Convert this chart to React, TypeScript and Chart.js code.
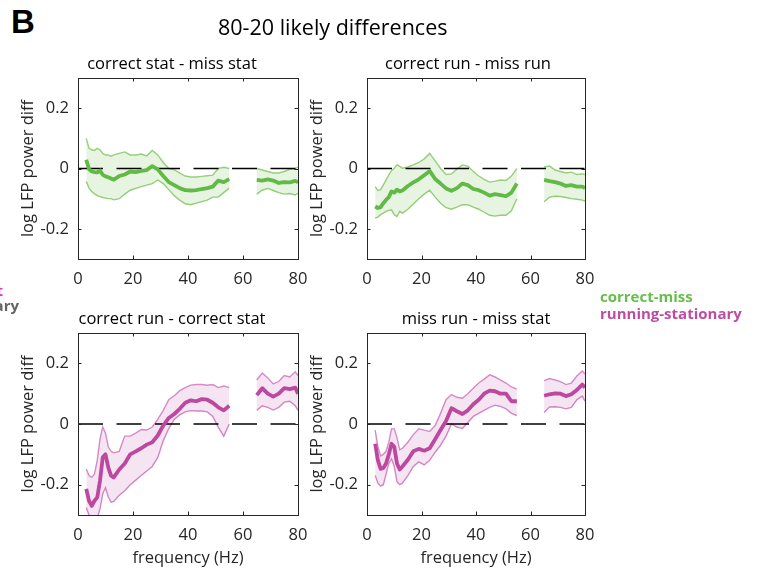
import React, { useEffect, useRef } from "react";
import { Chart, registerables } from "chart.js";

Chart.register(...registerables);

const FONT = '"Open Sans", "Noto Sans", sans-serif';

// frequency (Hz); 60 is the notch gap (null values)
const FREQ = [3, 4, 5, 6, 7, 8, 9, 10, 11, 12, 13, 15, 17, 19, 21, 23, 25, 27, 29, 31, 33, 35, 37, 39, 41, 43, 45, 47, 49, 51, 53, 55, 60, 65, 67, 69, 71, 73, 75, 77, 79, 80];
const X_TICKS = [0, 20, 40, 60, 80];
const Y_TICKS = [-0.2, 0, 0.2];
const Y_TICK_LABELS = ["-0.2", "0", "0.2"];

const TL_MEAN = [0.029, -0.002, -0.01, -0.012, -0.013, -0.007, -0.021, -0.026, -0.029, -0.033, -0.037, -0.025, -0.02, -0.01, -0.012, -0.008, -0.005, 0.008, -0.003, -0.025, -0.045, -0.055, -0.065, -0.072, -0.073, -0.072, -0.068, -0.065, -0.06, -0.04, -0.045, -0.035, null, -0.038, -0.04, -0.036, -0.04, -0.048, -0.045, -0.046, -0.041, -0.046];
const TL_UPPER = [0.1, 0.067, 0.062, 0.06, 0.067, 0.062, 0.05, 0.045, 0.045, 0.04, 0.045, 0.05, 0.055, 0.045, 0.045, 0.048, 0.042, 0.06, 0.045, 0.02, 0.0, -0.004, -0.015, -0.025, -0.028, -0.028, -0.026, -0.024, -0.022, 0.0, 0.004, 0.0, null, 0.0, -0.005, -0.01, -0.015, -0.015, -0.01, -0.003, 0.0, 0.005];
const TL_LOWER = [-0.043, -0.065, -0.076, -0.084, -0.09, -0.093, -0.096, -0.098, -0.1, -0.1, -0.104, -0.1, -0.085, -0.072, -0.066, -0.06, -0.055, -0.05, -0.038, -0.05, -0.07, -0.09, -0.105, -0.117, -0.12, -0.115, -0.11, -0.105, -0.095, -0.095, -0.08, -0.065, null, -0.085, -0.072, -0.066, -0.073, -0.08, -0.085, -0.083, -0.088, -0.082];

const TR_MEAN = [-0.126, -0.131, -0.128, -0.115, -0.104, -0.095, -0.076, -0.08, -0.07, -0.076, -0.073, -0.058, -0.046, -0.036, -0.022, -0.008, -0.035, -0.05, -0.066, -0.074, -0.065, -0.05, -0.055, -0.068, -0.072, -0.08, -0.09, -0.085, -0.088, -0.092, -0.08, -0.05, null, -0.038, -0.042, -0.045, -0.05, -0.058, -0.055, -0.06, -0.06, -0.065];
const TR_UPPER = [-0.06, -0.073, -0.07, -0.054, -0.038, -0.021, -0.007, 0.001, 0.012, 0.007, 0.001, 0.005, 0.012, 0.02, 0.032, 0.05, 0.025, 0.0, -0.02, -0.018, -0.002, 0.012, 0.008, -0.01, -0.025, -0.036, -0.045, -0.042, -0.038, -0.04, -0.025, 0.0, null, 0.005, 0.008, -0.005, -0.01, -0.015, -0.012, -0.02, -0.018, -0.02];
const TR_LOWER = [-0.164, -0.161, -0.153, -0.148, -0.142, -0.139, -0.137, -0.153, -0.159, -0.142, -0.148, -0.135, -0.118, -0.1, -0.085, -0.072, -0.095, -0.115, -0.13, -0.135, -0.128, -0.12, -0.12, -0.128, -0.135, -0.145, -0.155, -0.158, -0.155, -0.155, -0.14, -0.1, null, -0.11, -0.095, -0.092, -0.093, -0.096, -0.1, -0.102, -0.105, -0.108];

const BL_MEAN = [-0.214, -0.253, -0.27, -0.253, -0.242, -0.187, -0.11, -0.1, -0.143, -0.17, -0.176, -0.15, -0.13, -0.1, -0.09, -0.08, -0.068, -0.06, -0.038, -0.005, 0.02, 0.033, 0.05, 0.07, 0.078, 0.075, 0.082, 0.08, 0.07, 0.055, 0.045, 0.06, null, 0.095, 0.118, 0.1, 0.09, 0.1, 0.118, 0.115, 0.12, 0.1];
const BL_UPPER = [-0.148, -0.17, -0.176, -0.165, -0.12, -0.05, -0.01, -0.03, -0.075, -0.09, -0.095, -0.09, -0.04, -0.04, -0.03, -0.018, -0.02, -0.01, 0.015, 0.045, 0.08, 0.093, 0.11, 0.12, 0.128, 0.13, 0.13, 0.128, 0.13, 0.12, 0.125, 0.12, null, 0.145, 0.168, 0.152, 0.132, 0.14, 0.16, 0.155, 0.172, 0.16];
const BL_LOWER = [-0.275, -0.3, -0.31, -0.31, -0.31, -0.28, -0.23, -0.21, -0.24, -0.258, -0.255, -0.235, -0.22, -0.2, -0.185, -0.17, -0.155, -0.14, -0.11, -0.055, -0.015, 0.015, 0.03, 0.04, 0.044, 0.043, 0.043, 0.04, 0.025, -0.01, -0.04, 0.0, null, 0.045, 0.06, 0.055, 0.046, 0.055, 0.072, 0.075, 0.06, 0.045];

const BR_MEAN = [-0.065, -0.12, -0.148, -0.145, -0.13, -0.1, -0.065, -0.075, -0.13, -0.15, -0.14, -0.118, -0.09, -0.082, -0.088, -0.08, -0.05, -0.02, 0.01, 0.052, 0.042, 0.033, 0.045, 0.065, 0.08, 0.1, 0.11, 0.108, 0.1, 0.1, 0.075, 0.075, null, 0.093, 0.098, 0.101, 0.1, 0.092, 0.098, 0.112, 0.13, 0.12];
const BR_UPPER = [-0.02, -0.075, -0.105, -0.1, -0.09, -0.06, -0.016, -0.016, -0.045, -0.085, -0.08, -0.06, -0.035, -0.016, -0.02, -0.025, -0.005, 0.035, 0.08, 0.097, 0.088, 0.085, 0.1, 0.118, 0.135, 0.148, 0.162, 0.155, 0.145, 0.135, 0.122, 0.115, null, 0.143, 0.15, 0.145, 0.14, 0.13, 0.135, 0.158, 0.175, 0.165];
const BR_LOWER = [-0.17, -0.195, -0.205, -0.2, -0.165, -0.13, -0.115, -0.14, -0.19, -0.2, -0.195, -0.17, -0.14, -0.125, -0.135, -0.12, -0.093, -0.07, -0.04, 0.0, -0.01, -0.015, 0.005, 0.025, 0.035, 0.045, 0.055, 0.062, 0.058, 0.05, 0.035, 0.028, null, 0.038, 0.056, 0.057, 0.055, 0.05, 0.055, 0.08, 0.092, 0.075];

const GREEN = { main: "rgb(98,186,70)", edge: "rgb(150,208,122)", fill: "rgba(112,190,85,0.17)" };
const MAGENTA = { main: "rgb(188,72,160)", edge: "rgb(214,138,198)", fill: "rgba(190,90,170,0.16)" };

const PANELS = [
  { title: "correct stat - miss stat", titleX: 172, titleY: 64, canvas: { l: 0, t: 40, w: 320, h: 260 }, plot: { l: 78, t: 78, r: 298, b: 259 }, yTitleX: 28, xTitle: false, mean: TL_MEAN, upper: TL_UPPER, lower: TL_LOWER, col: GREEN },
  { title: "correct run - miss run", titleX: 468, titleY: 64, canvas: { l: 300, t: 40, w: 307, h: 260 }, plot: { l: 367, t: 78, r: 585, b: 259 }, yTitleX: 317, xTitle: false, mean: TR_MEAN, upper: TR_UPPER, lower: TR_LOWER, col: GREEN },
  { title: "correct run - correct stat", titleX: 172, titleY: 319, canvas: { l: 0, t: 300, w: 320, h: 275 }, plot: { l: 78, t: 333, r: 298, b: 515 }, yTitleX: 28, xTitle: true, mean: BL_MEAN, upper: BL_UPPER, lower: BL_LOWER, col: MAGENTA },
  { title: "miss run - miss stat", titleX: 476, titleY: 319, canvas: { l: 300, t: 300, w: 307, h: 275 }, plot: { l: 367, t: 333, r: 585, b: 515 }, yTitleX: 317, xTitle: true, mean: BR_MEAN, upper: BR_UPPER, lower: BR_LOWER, col: MAGENTA },
];

const pts = (arr) => FREQ.map((f, i) => ({ x: f, y: arr[i] }));

function makeConfig(p) {
  const fs = 16.5;
  const lh = fs * 1.2;
  const padLeft = p.yTitleX - lh / 2 - p.canvas.l;
  const padTop = p.plot.t - p.canvas.t;
  const padRight = p.canvas.l + p.canvas.w - p.plot.r;
  const padBottom = p.xTitle ? 7 : 0;
  const yWidth = p.plot.l - p.canvas.l - padLeft;
  const xHeight = p.canvas.t + p.canvas.h - padBottom - p.plot.b;

  const framePlugin = {
    id: "frame",
    afterDraw(chart) {
      const { ctx, chartArea: a, scales } = chart;
      ctx.save();
      ctx.strokeStyle = "#262626";
      ctx.lineWidth = 1;
      ctx.strokeRect(Math.round(a.left) + 0.5, Math.round(a.top) + 0.5, Math.round(a.right - a.left), Math.round(a.bottom - a.top));
      ctx.beginPath();
      const tl = 3.5;
      X_TICKS.forEach((v) => {
        const x = Math.round(scales.x.getPixelForValue(v)) + 0.5;
        ctx.moveTo(x, a.bottom);
        ctx.lineTo(x, a.bottom - tl);
        ctx.moveTo(x, a.top);
        ctx.lineTo(x, a.top + tl);
      });
      Y_TICKS.forEach((v) => {
        const y = Math.round(scales.y.getPixelForValue(v)) + 0.5;
        ctx.moveTo(a.left, y);
        ctx.lineTo(a.left + tl, y);
        ctx.moveTo(a.right, y);
        ctx.lineTo(a.right - tl, y);
      });
      ctx.stroke();
      ctx.fillStyle = "#000";
      ctx.font = `${fs}px ${FONT}`;
      ctx.textAlign = "center";
      ctx.textBaseline = "middle";
      ctx.fillText(p.title, p.titleX - p.canvas.l, p.titleY - p.canvas.t);
      ctx.restore();
    },
  };

  return {
    type: "line",
    data: {
      datasets: [
        { data: pts(p.upper), borderColor: p.col.edge, borderWidth: 1.4, backgroundColor: p.col.fill, fill: "+1", pointRadius: 0, spanGaps: false, order: 4 },
        { data: pts(p.lower), borderColor: p.col.edge, borderWidth: 1.4, fill: false, pointRadius: 0, spanGaps: false, order: 4 },
        { data: [{ x: 0, y: 0 }, { x: 80, y: 0 }], borderColor: "#000", borderWidth: 1.5, borderDash: [25, 13.5], fill: false, pointRadius: 0, order: 2 },
        { data: pts(p.mean), borderColor: p.col.main, borderWidth: 3.8, fill: false, pointRadius: 0, spanGaps: false, borderJoinStyle: "round", order: 1 },
      ],
    },
    options: {
      responsive: false,
      animation: false,
      events: [],
      layout: { padding: { left: padLeft, top: padTop, right: padRight, bottom: padBottom } },
      plugins: { legend: { display: false }, tooltip: { enabled: false }, title: { display: false } },
      scales: {
        x: {
          type: "linear",
          min: 0,
          max: 80,
          afterBuildTicks: (s) => { s.ticks = X_TICKS.map((v) => ({ value: v })); },
          afterFit: (s) => { s.height = xHeight; },
          grid: { display: false, drawTicks: false },
          border: { display: false },
          ticks: { padding: 10, autoSkip: false, maxRotation: 0, color: "#262626", font: { family: FONT, size: fs }, callback: (v) => String(v) },
          title: { display: p.xTitle, text: "frequency (Hz)", color: "#262626", font: { family: FONT, size: fs }, padding: { top: 0, bottom: 0 } },
        },
        y: {
          type: "linear",
          min: -0.3,
          max: 0.3,
          afterBuildTicks: (s) => { s.ticks = Y_TICKS.map((v) => ({ value: v })); },
          afterFit: (s) => { s.width = yWidth; },
          grid: { display: false, drawTicks: false },
          border: { display: false },
          ticks: { padding: 9, autoSkip: false, color: "#262626", font: { family: FONT, size: fs }, callback: (v, i) => Y_TICK_LABELS[i] },
          title: { display: true, text: "log LFP power diff", color: "#262626", font: { family: FONT, size: fs }, padding: { top: 0, bottom: 0 } },
        },
      },
    },
    plugins: [framePlugin],
  };
}

function Panel({ p }) {
  const ref = useRef(null);
  useEffect(() => {
    const chart = new Chart(ref.current, makeConfig(p));
    return () => chart.destroy();
  }, []);
  return (
    <canvas
      ref={ref}
      width={p.canvas.w}
      height={p.canvas.h}
      style={{ position: "absolute", left: p.canvas.l, top: p.canvas.t, width: p.canvas.w, height: p.canvas.h }}
    />
  );
}

export default function App() {
  const txt = (style, content) => <div style={{ position: "absolute", whiteSpace: "nowrap", fontFamily: FONT, ...style }}>{content}</div>;
  return (
    <div style={{ position: "absolute", left: 0, top: 0, width: 766, height: 575, background: "#fff", overflow: "hidden" }}>
      {PANELS.map((p, i) => <Panel key={i} p={p} />)}
      {txt({ left: 11, top: 5, fontSize: 33, lineHeight: "33px", fontWeight: 700, fontFamily: '"Liberation Sans", Arial, sans-serif', color: "#000" }, "B")}
      {txt({ left: 218, top: 13, fontSize: 21.5, lineHeight: "28px", color: "#000" }, "80-20 likely differences")}
      {txt({ left: 600, top: 286, fontSize: 15, lineHeight: "20px", fontWeight: 700, color: "rgb(104,190,74)" }, "correct-miss")}
      {txt({ left: 600, top: 303, fontSize: 15, lineHeight: "20px", fontWeight: 700, color: "rgb(190,76,164)" }, "running-stationary")}
      {txt({ right: 763, top: 280, fontSize: 15, lineHeight: "20px", fontWeight: 700, color: "rgb(204,64,200)" }, "run-stat")}
      {txt({ right: 747, top: 295, fontSize: 15, lineHeight: "20px", fontWeight: 700, color: "rgb(100,100,100)" }, "stationary")}
    </div>
  );
}
